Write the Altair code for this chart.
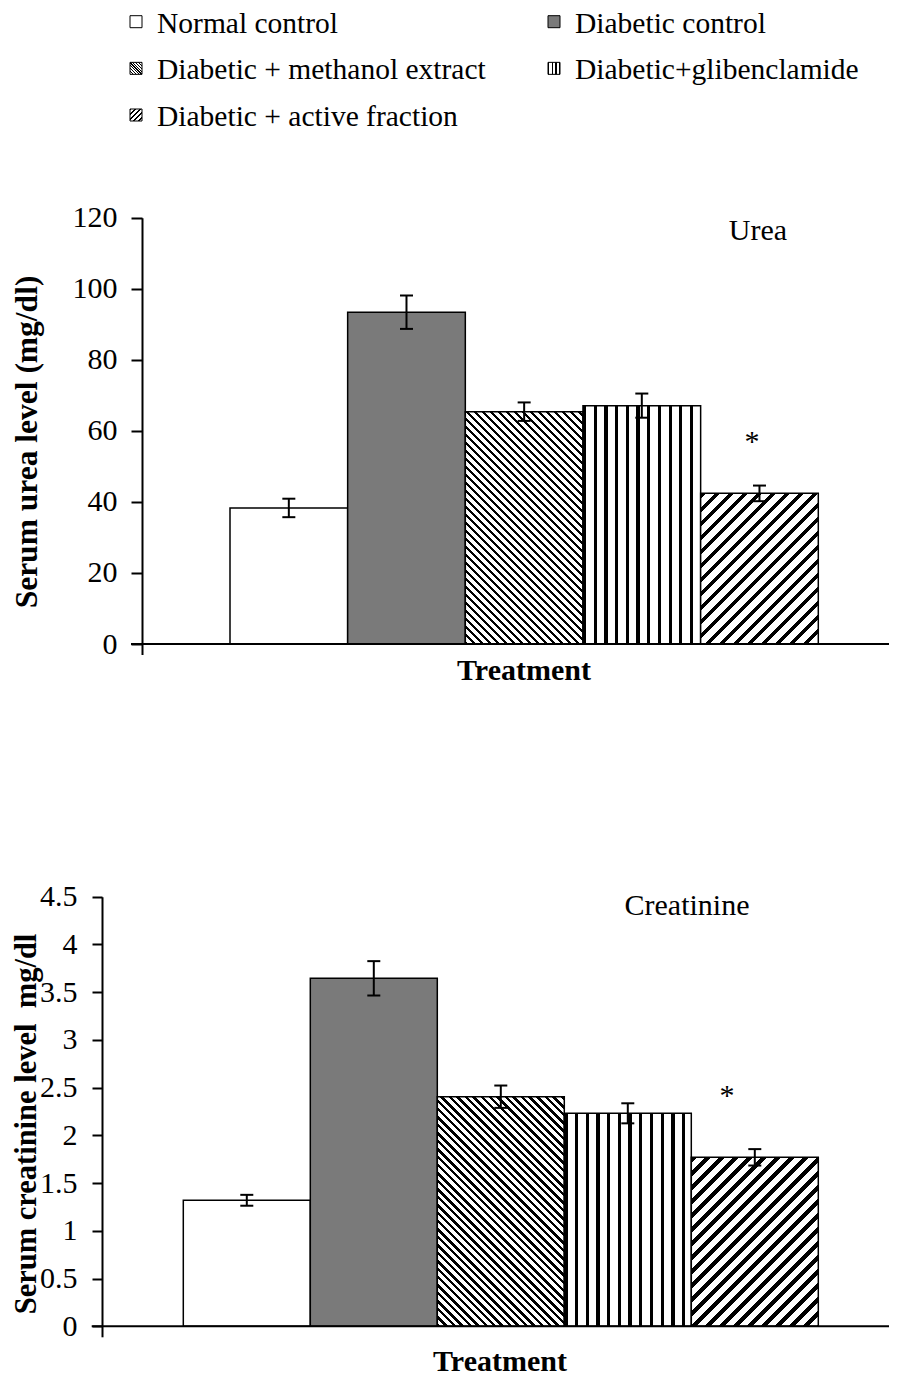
import altair as alt
import pandas as pd

# ---------------- data ----------------
treatments = ["Normal control", "Diabetic control", "Diabetic + methanol extract",
              "Diabetic+glibenclamide", "Diabetic + active fraction"]
urea_mean = [38.3, 93.4, 65.4, 67.1, 42.4]
urea_err = [2.6, 4.7, 2.6, 3.4, 2.2]
creat_mean = [1.32, 3.645, 2.405, 2.231, 1.770]
creat_err = [0.057, 0.18, 0.117, 0.105, 0.086]
urea_ticks = [0, 20, 40, 60, 80, 100, 120]
creat_ticks = [0, 0.5, 1, 1.5, 2, 2.5, 3, 3.5, 4, 4.5]
legend_cols = [0, 1, 0, 1, 0]
legend_rows = [0, 0, 1, 1, 2]

# ---------------- styles / layout ----------------
FONT = "Liberation Serif"
ORIGIN_X = 142          # page x of the plot origin (urea y axis)
PAD_LEFT = ORIGIN_X - 8
CANVAS_W = 889 - ORIGIN_X
CANVAS_H = 1371
PATTERN_KIND = ["white", "checker", "back", "vert", "fwd"]
PATTERN_PERIOD = [0, 0, 8.0, 10.7, 14.0]
PATTERN_FRAC = [0, 0, 0.45, 0.30, 0.40]
CHECKER_GREY = "#7a7a7a"


def PX(x):
    return x - ORIGIN_X


def PY(y):
    return y - 8


def stripe_gradient(kind, W, H, period, frac, dark="#000000", light="#ffffff"):
    if kind == "vert":
        total = W
        coords = dict(x1=0, y1=0, x2=1, y2=0)
    else:
        k = (W + H) / (W * W + H * H)
        total = W + H
        if kind == "fwd":
            coords = dict(x1=0, y1=0, x2=W * k, y2=H * k)
        else:
            coords = dict(x1=0, y1=1, x2=W * k, y2=1 - H * k)
    n = total / period
    stops = []
    i = 0
    while i < n:
        a = i / n
        b = min((i + frac) / n, 1.0)
        c = min((i + 1) / n, 1.0)
        stops += [(a, dark), (b, dark), (b, light), (c, light)]
        i += 1
    return alt.LinearGradient(
        gradient="linear",
        stops=[alt.GradientStop(offset=round(o, 5), color=col) for o, col in stops],
        **coords,
    )


def make_fill(i, W, H, period_scale=1.0):
    kind = PATTERN_KIND[i]
    if kind == "white":
        return "#ffffff"
    if kind == "checker":
        return CHECKER_GREY
    return stripe_gradient(kind, W, H, PATTERN_PERIOD[i] * period_scale, PATTERN_FRAC[i])


one = pd.DataFrame({"k": [0]})


def text_layer(txt, x, y, size=30, weight="normal", align="center"):
    return alt.Chart(one).mark_text(
        text=txt, font=FONT, fontSize=size, fontWeight=weight, color="black",
        align=align, baseline="alphabetic",
    ).encode(x=alt.value(x), y=alt.value(y))


def panel(mean, err, dmax, ticks, y0, y1, axis_page_x, bar_l, bar_r, tick_size, label_pad,
          ytitle, ytitle_page, ytitle_size, tag, tag_xy, star_dx, star_y, xtitle_xy, xline_left):
    df = pd.DataFrame({"treatment": treatments, "mean": mean, "err": err})
    df["lo"] = df["mean"] - df["err"]
    df["hi"] = df["mean"] + df["err"]

    def ys():
        return alt.Scale(domain=[0, dmax], range=[y0, y1], nice=False)

    def X():
        return alt.X("treatment:N", axis=None,
                     scale=alt.Scale(domain=treatments, range=[bar_l, bar_r],
                                     paddingInner=0, paddingOuter=0))

    W = (bar_r - bar_l) / len(treatments)
    px_per = (y0 - y1) / dmax
    offset = ORIGIN_X - axis_page_x          # >= 0, moves the axis to the left
    axis_group_page_x = axis_page_x + 0.5

    yaxis = alt.Axis(
        orient="left", offset=offset, values=ticks, format="~r", grid=False,
        domainColor="black", domainWidth=2, tickColor="black", tickWidth=2,
        tickSize=tick_size, labelFont=FONT, labelFontSize=30, labelColor="black",
        labelPadding=label_pad,
        title=ytitle, titleFont=FONT, titleFontSize=ytitle_size, titleFontWeight="bold",
        titleColor="black", titleAngle=270, titleAlign="center", titleBaseline="middle",
        titleX=ytitle_page[0] - axis_group_page_x, titleY=ytitle_page[1] - 8.5,
    )

    layers = []
    for i, name in enumerate(treatments):
        H = mean[i] * px_per
        layers.append(
            alt.Chart(df).transform_filter(alt.datum.treatment == name)
            .mark_bar(fill=make_fill(i, W, H), stroke="black", strokeWidth=1.5, opacity=1)
            .encode(x=X(), y=alt.Y("mean:Q", scale=ys(), axis=yaxis if i == 0 else None))
        )
    layers.append(
        alt.Chart(df).mark_rule(color="black", strokeWidth=2)
        .encode(x=X(), y=alt.Y("lo:Q", scale=ys(), axis=None), y2="hi:Q")
    )
    for f in ["lo", "hi"]:
        layers.append(
            alt.Chart(df).mark_tick(color="black", thickness=2, size=13, orient="horizontal", opacity=1)
            .encode(x=X(), y=alt.Y(f + ":Q", scale=ys(), axis=None))
        )
    # significance mark on the active fraction bar
    layers.append(
        alt.Chart(df).transform_filter(alt.datum.treatment == treatments[4])
        .mark_text(text="*", font=FONT, fontSize=30, color="black", dx=star_dx,
                   baseline="alphabetic", align="center")
        .encode(x=X(), y=alt.value(star_y))
    )
    # x axis line and its end tick below the y axis
    layers.append(
        alt.Chart(one).mark_rule(color="black", strokeWidth=2)
        .encode(x=alt.value(xline_left), x2=alt.value(CANVAS_W), y=alt.value(y0))
    )
    layers.append(
        alt.Chart(one).mark_rule(color="black", strokeWidth=2)
        .encode(x=alt.value(PX(axis_group_page_x)), y=alt.value(y0), y2=alt.value(y0 + 11))
    )
    layers.append(text_layer(tag, tag_xy[0], tag_xy[1]))
    layers.append(text_layer("Treatment", xtitle_xy[0], xtitle_xy[1], weight="bold"))
    return layers


top_layers = panel(
    urea_mean, urea_err, 120, urea_ticks,
    y0=PY(644), y1=PY(217.7), axis_page_x=142, bar_l=PX(230), bar_r=PX(818.3),
    tick_size=11, label_pad=14,
    ytitle="Serum urea level (mg/dl)", ytitle_page=(28, 442), ytitle_size=31.5,
    tag="Urea", tag_xy=(PX(758), PY(240)), star_dx=-7.5, star_y=PY(451.4),
    xtitle_xy=(PX(524), PY(680)), xline_left=PX(131),
)

bottom_layers = panel(
    creat_mean, creat_err, 4.5, creat_ticks,
    y0=PY(1326.3), y1=PY(896.7), axis_page_x=102, bar_l=PX(183.3), bar_r=PX(818.3),
    tick_size=10, label_pad=15,
    ytitle="Serum creatinine level \u00a0mg/dl", ytitle_page=(27, 1124), ytitle_size=30.5,
    tag="Creatinine", tag_xy=(PX(687), PY(915)), star_dx=-27.7, star_y=PY(1105),
    xtitle_xy=(PX(500), PY(1371)), xline_left=PX(91.7),
)

# ---------------- legend ----------------
ldf = pd.DataFrame({"treatment": treatments, "col": legend_cols, "row": legend_rows})


def LX():
    return alt.X("col:Q", scale=alt.Scale(domain=[0, 1], range=[PX(157), PX(575)]), axis=None)


def LY():
    return alt.Y("row:Q", scale=alt.Scale(domain=[0, 2], range=[PY(32.7), PY(126)]), axis=None)


leg_layers = [
    alt.Chart(ldf).mark_text(font=FONT, fontSize=29.5, color="black", align="left",
                             baseline="alphabetic")
    .encode(x=LX(), y=LY(), text="treatment:N")
]
for i, name in enumerate(treatments):
    leg_layers.append(
        alt.Chart(ldf).transform_filter(alt.datum.treatment == name)
        .mark_square(fill=make_fill(i, 12, 12, period_scale=0.35), filled=True, opacity=1,
                     stroke="black", strokeWidth=1, size=144, xOffset=-21, yOffset=-11)
        .encode(x=LX(), y=LY())
    )

chart = (
    alt.layer(*top_layers, *bottom_layers, *leg_layers)
    .resolve_scale(x="independent", y="independent")
    .properties(width=CANVAS_W, height=CANVAS_H,
                autosize=alt.AutoSizeParams(type="none"),
                padding={"left": PAD_LEFT, "top": 0, "right": 0, "bottom": 0},
                background="white")
    .configure_view(stroke="transparent")
)

chart.save("out.html", embed_options={"renderer": "svg", "actions": False})
